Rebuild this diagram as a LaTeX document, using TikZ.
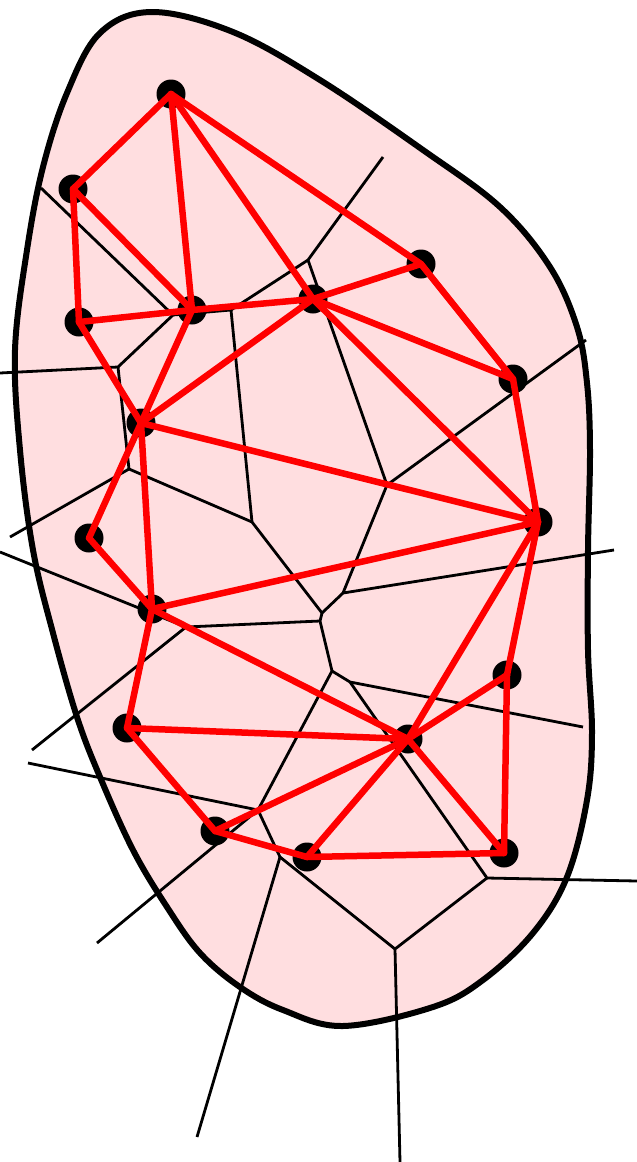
\documentclass[tikz,border=0pt]{standalone}
\definecolor{blobfill}{RGB}{255,222,224}
\begin{document}
\begin{tikzpicture}[x=1pt,y=-1pt,
  site/.style={circle,fill=black,inner sep=0pt,minimum size=29pt},
  del/.style={red,line width=6.5pt,line join=round,line cap=round},
  vor/.style={black,line width=2.8pt,line join=round},
  blob/.style={draw=black,line width=6pt,fill=blobfill}]
\useasboundingbox (0,0) rectangle (637,1162);
% region
\path[blob] plot[smooth cycle,tension=0.6] coordinates {
 (152,12) (233,32) (320,80) (423,150) (500,207) (550,267) (577,327) (587,383)
 (590,450) (588,550) (588,650) (592,733) (587,800) (567,877) (533,933) (483,980)
 (433,1007) (343,1026) (283,1010) (240,987) (200,953) (167,907) (133,850) (100,777)
 (77,717) (53,633) (33,550) (20,450) (15,350) (27,250) (43,167) (67,93) (100,33)};
% Voronoi vertices
\coordinate (va) at (173,315);
\coordinate (vb) at (118,367);
\coordinate (vc) at (231,310);
\coordinate (vd) at (308,260);
\coordinate (ve) at (387,485);
\coordinate (vf) at (343,593);
\coordinate (vg) at (322,613);
\coordinate (vg2) at (320,621);
\coordinate (vh) at (252,522);
\coordinate (vi) at (186,627);
\coordinate (vj) at (332,671);
\coordinate (vk) at (129,469);
\coordinate (vl) at (258,810);
\coordinate (vm) at (350,682);
\coordinate (vn) at (487,878);
\coordinate (vo) at (395,949);
\coordinate (vp) at (280,857);
% free ends
\coordinate (f1) at (41,188);
\coordinate (f2) at (0,373);
\coordinate (f3) at (383,157);
\coordinate (f4) at (586,340);
\coordinate (f5) at (614,550);
\coordinate (f6) at (10,537);
\coordinate (f7) at (0,552);
\coordinate (f8) at (32,750);
\coordinate (f9) at (583,727);
\coordinate (f10) at (637,881);
\coordinate (f11) at (400,1162);
\coordinate (f12) at (197,1137);
\coordinate (f13) at (28,763);
\coordinate (f14) at (97,943);
\draw[vor] (f1) -- (va) -- (vb) -- (f2);
\draw[vor] (va) -- (vc) -- (vd) -- (f3);
\draw[vor] (vd) -- (ve) -- (f4);
\draw[vor] (ve) -- (vf) -- (f5);
\draw[vor] (vf) -- (vg) -- (vg2) -- (vj);
\draw[vor] (vc) -- (vh) -- (vg);
\draw[vor] (vb) -- (vk) -- (vh);
\draw[vor] (vk) -- (f6);
\draw[vor] (vg2) -- (vi) -- (f7);
\draw[vor] (vi) -- (f8);
\draw[vor] (vj) -- (vm) -- (f9);
\draw[vor] (vm) -- (vn) -- (f10);
\draw[vor] (vn) -- (vo) -- (f11);
\draw[vor] (vo) -- (vp) -- (f12);
\draw[vor] (vj) -- (vl) -- (vp);
\draw[vor] (f13) -- (vl) -- (f14);
% sites
\node[site] (p1) at (171,94) {};
\node[site] (p2) at (73,189) {};
\node[site] (p3) at (79,322) {};
\node[site] (p4) at (192,310) {};
\node[site] (p5) at (313,299) {};
\node[site] (p6) at (421,264) {};
\node[site] (p7) at (513,379) {};
\node[site] (p8) at (141,423) {};
\node[site] (p9) at (538,522) {};
\node[site] (p10) at (89,538) {};
\node[site] (p11) at (152,609) {};
\node[site] (p12) at (507,675) {};
\node[site] (p13) at (127,728) {};
\node[site] (p14) at (408,739) {};
\node[site] (p15) at (215,831) {};
\node[site] (p16) at (307,857) {};
\node[site] (p17) at (504,853) {};
% Delaunay edges
\foreach \a/\b in {p1/p2,p1/p4,p1/p5,p1/p6,p2/p3,p2/p4,p3/p4,p3/p8,p4/p5,p4/p8,
  p5/p6,p5/p8,p5/p7,p5/p9,p6/p7,p7/p9,p8/p9,p8/p10,p8/p11,p9/p11,p9/p12,p9/p14,
  p10/p11,p11/p13,p11/p14,p12/p14,p12/p17,p13/p14,p13/p15,p14/p15,p14/p16,p14/p17,
  p15/p16,p16/p17}
  \draw[del] (\a.center) -- (\b.center);
\end{tikzpicture}
\end{document}
